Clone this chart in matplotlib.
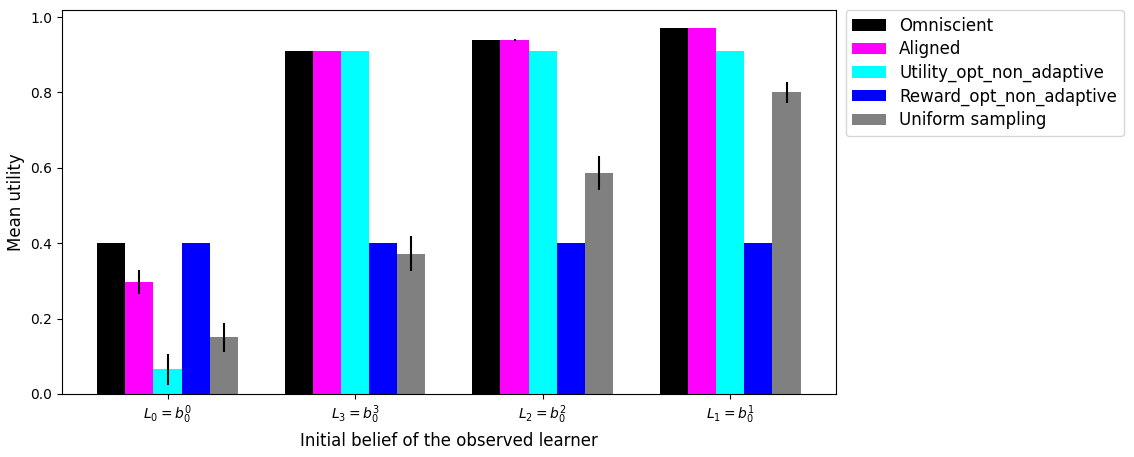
import matplotlib
matplotlib.use("Agg")
import matplotlib.pyplot as plt
import numpy as np

categories = [r"$L_0 = b_0^0$", r"$L_3 = b_0^3$", r"$L_2 = b_0^2$", r"$L_1 = b_0^1$"]
series_names = ["Omniscient", "Aligned", "Utility_opt_non_adaptive",
                "Reward_opt_non_adaptive", "Uniform sampling"]
colors = ["black", "magenta", "cyan", "blue", "gray"]

omniscient = [0.40, 0.91, 0.94, 0.97]
aligned = [0.297, 0.91, 0.94, 0.97]
utility = [0.065, 0.91, 0.91, 0.91]
reward = [0.40, 0.40, 0.40, 0.40]
uniform = [0.15, 0.372, 0.586, 0.80]

omniscient_err = [0.0, 0.0, 0.0, 0.0]
aligned_err = [0.033, 0.0, 0.003, 0.0]
utility_err = [0.04, 0.0, 0.0, 0.0]
reward_err = [0.0, 0.0, 0.0, 0.0]
uniform_err = [0.038, 0.047, 0.045, 0.027]

values = [omniscient, aligned, utility, reward, uniform]
errors = [omniscient_err, aligned_err, utility_err, reward_err, uniform_err]

fig = plt.figure(figsize=(11.34, 4.57), dpi=100)
ax = fig.add_axes([0.0547, 0.138, 0.6823, 0.840])

x = np.arange(len(categories))
width = 0.15
for i, (name, vals, errs, c) in enumerate(zip(series_names, values, errors, colors)):
    ax.bar(x + (i - 2) * width, vals, width, color=c, label=name,
           yerr=errs, ecolor="black", error_kw=dict(elinewidth=1.5, capsize=0))

ax.set_xticks(x)
ax.set_xticklabels(categories)
ax.set_ylabel("Mean utility", fontsize=12)
ax.set_xlabel("Initial belief of the observed learner", fontsize=12)
ax.legend(loc="upper left", bbox_to_anchor=(1.013, 1.0), fontsize=12,
          borderaxespad=0, labelspacing=0.33)

fig.savefig("out.png", dpi=100)
